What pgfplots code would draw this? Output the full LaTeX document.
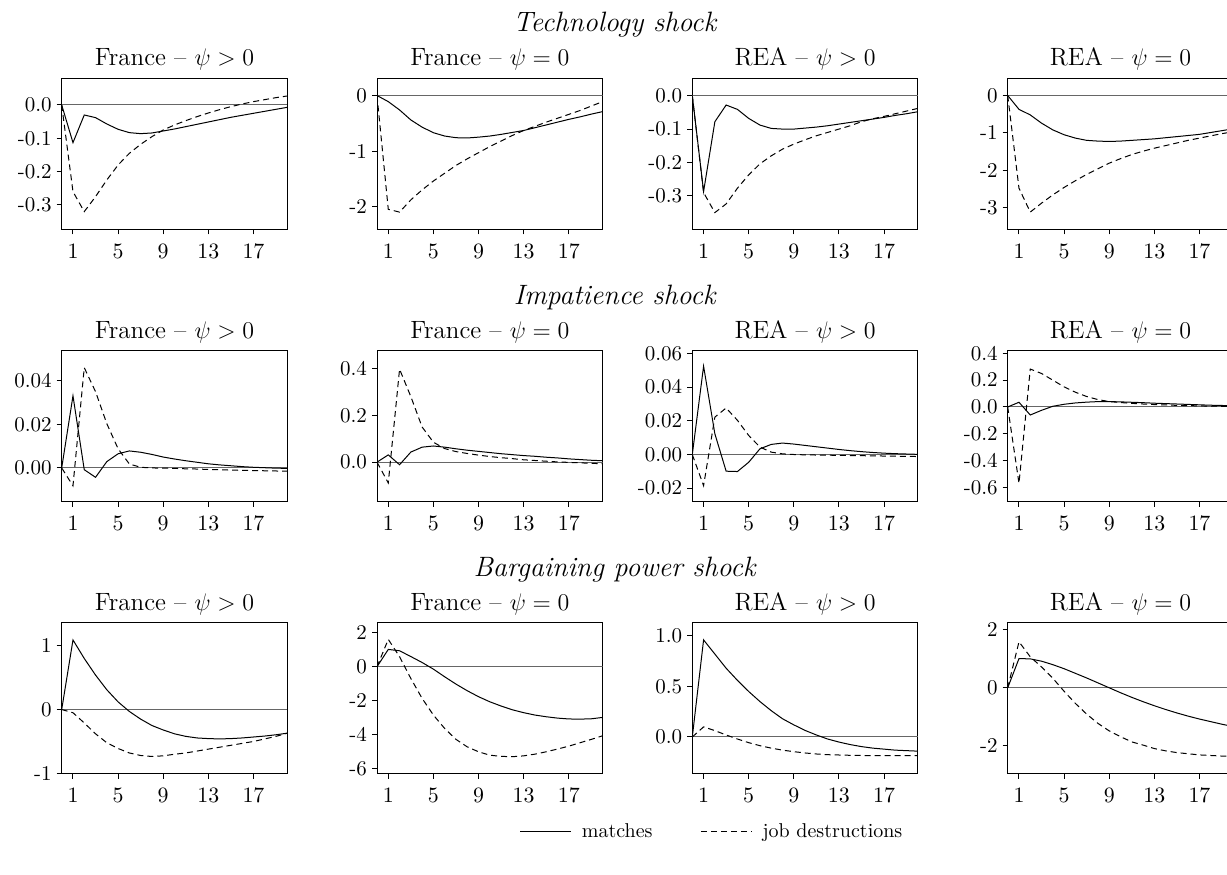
\documentclass[border=0pt]{standalone}
\usepackage{pgfplots}
\pgfplotsset{compat=1.18}
\pgfplotsset{
  every axis title shift=0pt,
  panel/.style={
    scale only axis, width=112.8pt, height=75.5pt,
    anchor=north west,
    xmin=0, xmax=20, xtick={1,5,9,13,17},
    scaled y ticks=false, scaled x ticks=false,
    tick align=outside, xtick pos=left, ytick pos=left,
    major tick length=2.5pt,
    axis line style={line width=0.5pt},
    tick style={black, line width=0.5pt},
    tick label style={font=\fontsize{10.5}{12}\selectfont},
    xticklabel style={yshift=-1.5pt},
    yticklabel style={xshift=1pt},
    title style={at={(0.5,1)}, anchor=base, yshift=6.2pt, font=\fontsize{12.5}{14}\selectfont},
  },
  zeroline/.style={black!60, line width=0.5pt, forget plot},
  matchline/.style={black, line width=0.5pt},
  destline/.style={black, line width=0.5pt, dash pattern=on 3pt off 2pt},
}
\begin{document}
\begin{tikzpicture}
% ---------------- Row 1: Technology shock ----------------
\node[font=\fontsize{14}{16}\selectfont\itshape, anchor=base] at (307.3pt,-15.85pt) {Technology shock};
\begin{axis}[panel, at={(30.85pt,-39.15pt)}, title={France -- $\psi > 0$},
  ymin=-0.373, ymax=0.08, ytick={-0.3,-0.2,-0.1,0}, yticklabels={-0.3,-0.2,-0.1,0.0}]
\addplot[zeroline] coordinates {(0,0) (20,0)};
\addplot[matchline] coordinates {(0,0) (1,-0.113) (2,-0.030) (3,-0.038) (4,-0.057) (5,-0.073) (6,-0.083) (7,-0.086) (8,-0.084) (9,-0.078) (10,-0.072) (11,-0.065) (12,-0.058) (13,-0.051) (14,-0.044) (15,-0.037) (16,-0.031) (17,-0.025) (18,-0.019) (19,-0.013) (20,-0.007)};
\addplot[destline] coordinates {(0,0) (1,-0.26) (2,-0.32) (3,-0.275) (4,-0.225) (5,-0.18) (6,-0.145) (7,-0.118) (8,-0.095) (9,-0.075) (10,-0.060) (11,-0.047) (12,-0.035) (13,-0.024) (14,-0.014) (15,-0.005) (16,0.003) (17,0.010) (18,0.016) (19,0.022) (20,0.027)};
\end{axis}
\begin{axis}[panel, at={(188.5pt,-39.15pt)}, title={France -- $\psi = 0$},
  ymin=-2.41, ymax=0.31, ytick={-2,-1,0}, yticklabels={-2,-1,0}]
\addplot[zeroline] coordinates {(0,0) (20,0)};
\addplot[matchline] coordinates {(0,0) (1,-0.11) (2,-0.26) (3,-0.44) (4,-0.57) (5,-0.67) (6,-0.73) (7,-0.76) (8,-0.765) (9,-0.75) (10,-0.73) (11,-0.70) (12,-0.665) (13,-0.63) (14,-0.58) (15,-0.53) (16,-0.48) (17,-0.43) (18,-0.385) (19,-0.335) (20,-0.29)};
\addplot[destline] coordinates {(0,0) (1,-2.05) (2,-2.10) (3,-1.88) (4,-1.70) (5,-1.54) (6,-1.40) (7,-1.26) (8,-1.14) (9,-1.03) (10,-0.92) (11,-0.82) (12,-0.72) (13,-0.63) (14,-0.555) (15,-0.48) (16,-0.41) (17,-0.34) (18,-0.27) (19,-0.19) (20,-0.11)};
\end{axis}
\begin{axis}[panel, at={(346.15pt,-39.15pt)}, title={REA -- $\psi > 0$},
  ymin=-0.40, ymax=0.052, ytick={-0.3,-0.2,-0.1,0}, yticklabels={-0.3,-0.2,-0.1,0.0}]
\addplot[zeroline] coordinates {(0,0) (20,0)};
\addplot[matchline] coordinates {(0,0) (1,-0.287) (2,-0.078) (3,-0.028) (4,-0.041) (5,-0.068) (6,-0.088) (7,-0.098) (8,-0.100) (9,-0.100) (10,-0.097) (11,-0.094) (12,-0.090) (13,-0.085) (14,-0.080) (15,-0.075) (16,-0.070) (17,-0.065) (18,-0.059) (19,-0.054) (20,-0.048)};
\addplot[destline] coordinates {(0,0) (1,-0.29) (2,-0.35) (3,-0.324) (4,-0.277) (5,-0.237) (6,-0.204) (7,-0.180) (8,-0.160) (9,-0.145) (10,-0.132) (11,-0.120) (12,-0.110) (13,-0.100) (14,-0.090) (15,-0.078) (16,-0.069) (17,-0.062) (18,-0.054) (19,-0.046) (20,-0.038)};
\end{axis}
\begin{axis}[panel, at={(503.85pt,-39.15pt)}, title={REA -- $\psi = 0$},
  ymin=-3.58, ymax=0.46, ytick={-3,-2,-1,0}, yticklabels={-3,-2,-1,0}]
\addplot[zeroline] coordinates {(0,0) (20,0)};
\addplot[matchline] coordinates {(0,0) (1,-0.37) (2,-0.52) (3,-0.74) (4,-0.92) (5,-1.05) (6,-1.14) (7,-1.20) (8,-1.22) (9,-1.23) (10,-1.22) (11,-1.20) (12,-1.18) (13,-1.16) (14,-1.13) (15,-1.10) (16,-1.07) (17,-1.04) (18,-0.99) (19,-0.94) (20,-0.89)};
\addplot[destline] coordinates {(0,0) (1,-2.48) (2,-3.12) (3,-2.88) (4,-2.66) (5,-2.46) (6,-2.28) (7,-2.11) (8,-1.96) (9,-1.81) (10,-1.69) (11,-1.58) (12,-1.49) (13,-1.41) (14,-1.34) (15,-1.27) (16,-1.20) (17,-1.14) (18,-1.08) (19,-1.02) (20,-0.97)};
\end{axis}
% ---------------- Row 2: Impatience shock ----------------
\node[font=\fontsize{14}{16}\selectfont\itshape, anchor=base] at (307.3pt,-152pt) {Impatience shock};
\begin{axis}[panel, at={(30.85pt,-175.35pt)}, title={France -- $\psi > 0$},
  ymin=-0.0155, ymax=0.0538, ytick={0,0.02,0.04}, yticklabels={0.00,0.02,0.04}]
\addplot[zeroline] coordinates {(0,0) (20,0)};
\addplot[matchline] coordinates {(0,0) (1,0.0331) (2,-0.0008) (3,-0.0043) (4,0.0029) (5,0.0065) (6,0.0078) (7,0.0072) (8,0.0062) (9,0.0050) (10,0.0041) (11,0.0033) (12,0.0026) (13,0.0019) (14,0.0014) (15,0.0010) (16,0.0006) (17,0.0003) (18,0.0001) (19,-0.0001) (20,-0.0002)};
\addplot[destline] coordinates {(0,0) (1,-0.0082) (2,0.046) (3,0.035) (4,0.0203) (5,0.0088) (6,0.0018) (7,0.0003) (8,0.0) (9,-0.0001) (10,-0.0002) (11,-0.0004) (12,-0.0005) (13,-0.0007) (14,-0.0008) (15,-0.0010) (16,-0.0011) (17,-0.0012) (18,-0.0013) (19,-0.0014) (20,-0.0015)};
\end{axis}
\begin{axis}[panel, at={(188.5pt,-175.35pt)}, title={France -- $\psi = 0$},
  ymin=-0.169, ymax=0.476, ytick={0,0.2,0.4}, yticklabels={0.0,0.2,0.4}]
\addplot[zeroline] coordinates {(0,0) (20,0)};
\addplot[matchline] coordinates {(0,0) (1,0.031) (2,-0.011) (3,0.043) (4,0.064) (5,0.069) (6,0.064) (7,0.057) (8,0.051) (9,0.046) (10,0.041) (11,0.036) (12,0.032) (13,0.028) (14,0.025) (15,0.021) (16,0.018) (17,0.014) (18,0.011) (19,0.008) (20,0.006)};
\addplot[destline] coordinates {(0,0) (1,-0.089) (2,0.397) (3,0.28) (4,0.15) (5,0.085) (6,0.058) (7,0.045) (8,0.037) (9,0.030) (10,0.024) (11,0.019) (12,0.015) (13,0.010) (14,0.007) (15,0.004) (16,0.001) (17,-0.001) (18,-0.003) (19,-0.005) (20,-0.007)};
\end{axis}
\begin{axis}[panel, at={(346.15pt,-175.35pt)}, title={REA -- $\psi > 0$},
  ymin=-0.028, ymax=0.0616, ytick={-0.02,0,0.02,0.04,0.06}, yticklabels={-0.02,0.00,0.02,0.04,0.06}]
\addplot[zeroline] coordinates {(0,0) (20,0)};
\addplot[matchline] coordinates {(0,0) (1,0.0524) (2,0.0123) (3,-0.0099) (4,-0.0101) (5,-0.0046) (6,0.0034) (7,0.0060) (8,0.0068) (9,0.0062) (10,0.0054) (11,0.0046) (12,0.0038) (13,0.0030) (14,0.0023) (15,0.0017) (16,0.0012) (17,0.0008) (18,0.0005) (19,0.0003) (20,0.0001)};
\addplot[destline] coordinates {(0,0) (1,-0.0185) (2,0.0222) (3,0.0276) (4,0.0203) (5,0.0113) (6,0.0044) (7,0.0014) (8,0.0004) (9,0.0) (10,-0.0002) (11,-0.0003) (12,-0.0004) (13,-0.0005) (14,-0.0006) (15,-0.0007) (16,-0.0008) (17,-0.0009) (18,-0.0010) (19,-0.0011) (20,-0.0012)};
\end{axis}
\begin{axis}[panel, at={(503.85pt,-175.35pt)}, title={REA -- $\psi = 0$},
  ymin=-0.7075, ymax=0.42, ytick={-0.6,-0.4,-0.2,0,0.2,0.4}, yticklabels={-0.6,-0.4,-0.2,0.0,0.2,0.4}]
\addplot[zeroline] coordinates {(0,0) (20,0)};
\addplot[matchline] coordinates {(0,0) (1,0.035) (2,-0.06) (3,-0.025) (4,0.005) (5,0.02) (6,0.03) (7,0.036) (8,0.04) (9,0.04) (10,0.038) (11,0.035) (12,0.032) (13,0.028) (14,0.025) (15,0.022) (16,0.019) (17,0.016) (18,0.013) (19,0.011) (20,0.009)};
\addplot[destline] coordinates {(0,0) (1,-0.57) (2,0.283) (3,0.25) (4,0.20) (5,0.15) (6,0.11) (7,0.078) (8,0.055) (9,0.04) (10,0.033) (11,0.027) (12,0.022) (13,0.018) (14,0.015) (15,0.012) (16,0.010) (17,0.008) (18,0.006) (19,0.005) (20,0.004)};
\end{axis}
% ---------------- Row 3: Bargaining power shock ----------------
\node[font=\fontsize{14}{16}\selectfont\itshape, anchor=base] at (307.3pt,-288pt) {Bargaining power shock};
\begin{axis}[panel, at={(30.85pt,-311.35pt)}, title={France -- $\psi > 0$},
  ymin=-1.005, ymax=1.36, ytick={-1,0,1}, yticklabels={-1,0,1}]
\addplot[zeroline] coordinates {(0,0) (20,0)};
\addplot[matchline] coordinates {(0,0) (1,1.09) (2,0.80) (3,0.54) (4,0.31) (5,0.12) (6,-0.03) (7,-0.15) (8,-0.25) (9,-0.32) (10,-0.38) (11,-0.42) (12,-0.445) (13,-0.455) (14,-0.46) (15,-0.455) (16,-0.445) (17,-0.43) (18,-0.415) (19,-0.395) (20,-0.37)};
\addplot[destline] coordinates {(0,0) (1,-0.05) (2,-0.21) (3,-0.38) (4,-0.52) (5,-0.61) (6,-0.68) (7,-0.72) (8,-0.735) (9,-0.725) (10,-0.70) (11,-0.68) (12,-0.65) (13,-0.62) (14,-0.59) (15,-0.56) (16,-0.53) (17,-0.50) (18,-0.46) (19,-0.42) (20,-0.37)};
\end{axis}
\begin{axis}[panel, at={(188.5pt,-311.35pt)}, title={France -- $\psi = 0$},
  ymin=-6.29, ymax=2.59, ytick={-6,-4,-2,0,2}, yticklabels={-6,-4,-2,0,2},
  legend columns=2,
  legend style={at={(1.49,-0.386)}, anchor=center, draw=none, fill=none,
    font=\fontsize{10}{12}\selectfont,
    /tikz/every odd column/.append style={column sep=3pt},
    /tikz/every even column/.append style={column sep=22pt}},
  legend image code/.code={\draw[#1] (0pt,0pt) -- (25.5pt,0pt);}]
\addplot[zeroline] coordinates {(0,0) (20,0)};
\addplot[matchline] coordinates {(0,0) (1,1.02) (2,0.94) (3,0.60) (4,0.25) (5,-0.14) (6,-0.59) (7,-1.02) (8,-1.41) (9,-1.76) (10,-2.06) (11,-2.31) (12,-2.53) (13,-2.70) (14,-2.84) (15,-2.94) (16,-3.02) (17,-3.07) (18,-3.08) (19,-3.06) (20,-2.98)};
\addlegendentry{matches}
\addplot[destline] coordinates {(0,0) (1,1.61) (2,0.59) (3,-0.69) (4,-1.86) (5,-2.84) (6,-3.63) (7,-4.27) (8,-4.71) (9,-5.0) (10,-5.2) (11,-5.27) (12,-5.29) (13,-5.24) (14,-5.14) (15,-5.0) (16,-4.84) (17,-4.67) (18,-4.47) (19,-4.27) (20,-4.06)};
\addlegendentry{job destructions}
\end{axis}
\begin{axis}[panel, at={(346.15pt,-311.35pt)}, title={REA -- $\psi > 0$},
  ymin=-0.363, ymax=1.13, ytick={0,0.5,1}, yticklabels={0.0,0.5,1.0}]
\addplot[zeroline] coordinates {(0,0) (20,0)};
\addplot[matchline] coordinates {(0,0) (1,0.96) (2,0.82) (3,0.68) (4,0.56) (5,0.45) (6,0.35) (7,0.26) (8,0.18) (9,0.12) (10,0.065) (11,0.02) (12,-0.02) (13,-0.05) (14,-0.075) (15,-0.095) (16,-0.11) (17,-0.12) (18,-0.13) (19,-0.135) (20,-0.14)};
\addplot[destline] coordinates {(0,0) (1,0.10) (2,0.063) (3,0.02) (4,-0.02) (5,-0.056) (6,-0.086) (7,-0.11) (8,-0.13) (9,-0.145) (10,-0.158) (11,-0.168) (12,-0.175) (13,-0.178) (14,-0.181) (15,-0.183) (16,-0.184) (17,-0.185) (18,-0.185) (19,-0.184) (20,-0.183)};
\end{axis}
\begin{axis}[panel, at={(503.85pt,-311.35pt)}, title={REA -- $\psi = 0$},
  ymin=-2.97, ymax=2.25, ytick={-2,0,2}, yticklabels={-2,0,2}]
\addplot[zeroline] coordinates {(0,0) (20,0)};
\addplot[matchline] coordinates {(0,0) (1,1.01) (2,1.0) (3,0.92) (4,0.80) (5,0.66) (6,0.50) (7,0.34) (8,0.17) (9,0.0) (10,-0.17) (11,-0.33) (12,-0.48) (13,-0.62) (14,-0.75) (15,-0.87) (16,-0.98) (17,-1.08) (18,-1.17) (19,-1.26) (20,-1.34)};
\addplot[destline] coordinates {(0,0) (1,1.59) (2,1.07) (3,0.72) (4,0.33) (5,-0.12) (6,-0.54) (7,-0.91) (8,-1.23) (9,-1.49) (10,-1.69) (11,-1.87) (12,-1.98) (13,-2.10) (14,-2.18) (15,-2.24) (16,-2.28) (17,-2.32) (18,-2.34) (19,-2.36) (20,-2.37)};
\end{axis}
\pgfresetboundingbox
\path[use as bounding box] (0pt,0pt) rectangle (613.5pt,-437pt);
\end{tikzpicture}
\end{document}
